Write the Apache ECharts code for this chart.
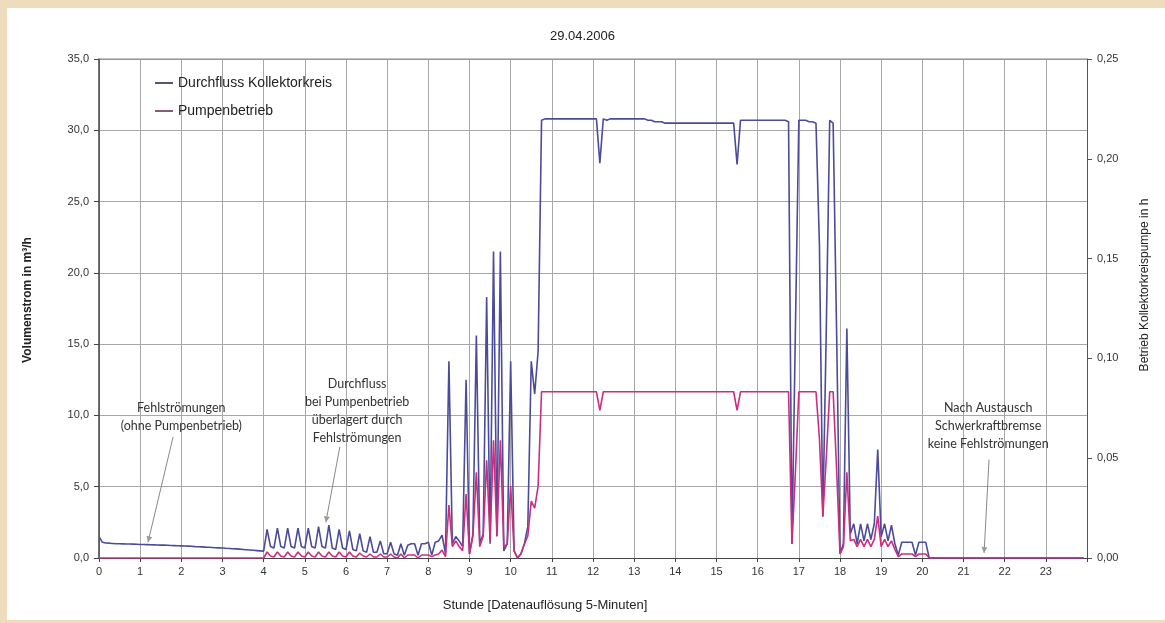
<!DOCTYPE html>
<html>
<head>
<meta charset="utf-8">
<script src="https://cdn.jsdelivr.net/npm/echarts@6/dist/echarts.min.js"></script>
<style>
html,body{margin:0;padding:0;background:#efdcbc;}
#c{width:1165px;height:623px;}
</style>
</head>
<body>
<div id="c"></div>
<script>
// 5-minute resolution, 288 values per day (index i -> hour i/12)
const titleText = '29.04.2006';
const hourLabels = ['0','1','2','3','4','5','6','7','8','9','10','11','12','13','14','15','16','17','18','19','20','21','22','23'];
const seriesNames = ['Durchfluss Kollektorkreis', 'Pumpenbetrieb'];

// Durchfluss Kollektorkreis in m³/h (left axis)
const flow = [
  1.5,1.1,1.05,1.04,1.02,1.0,1.0,0.99,0.98,0.98,0.97,0.96,
  0.95,0.95,0.94,0.93,0.92,0.91,0.90,0.90,0.89,0.88,0.87,0.86,
  0.85,0.84,0.83,0.82,0.80,0.79,0.78,0.76,0.75,0.74,0.72,0.71,
  0.70,0.68,0.67,0.65,0.64,0.62,0.60,0.58,0.56,0.54,0.52,0.50,
  0.48,2.0,0.8,0.7,2.1,0.8,0.7,2.1,0.8,0.7,2.1,0.8,
  0.7,2.1,0.8,0.7,2.2,0.8,0.7,2.3,0.7,0.6,2.0,0.7,
  0.6,1.9,0.6,0.5,1.7,0.5,0.4,1.5,0.4,0.4,1.2,0.3,
  0.3,1.1,0.3,0.2,1.0,0.2,0.9,1.0,1.0,0.2,1.0,1.0,
  1.1,0.2,1.1,1.2,1.6,0.3,13.8,1.0,1.5,1.2,0.8,12.5,
  0.3,1.7,15.6,1.0,1.7,18.3,1.0,21.5,1.5,21.5,0.5,1.0,
  13.8,0.5,0.0,0.3,1.0,2.2,13.8,11.5,14.5,30.7,30.8,30.8,
  30.8,30.8,30.8,30.8,30.8,30.8,30.8,30.8,30.8,30.8,30.8,30.8,
  30.8,30.8,27.7,30.8,30.7,30.8,30.8,30.8,30.8,30.8,30.8,30.8,
  30.8,30.8,30.8,30.8,30.7,30.7,30.6,30.6,30.6,30.5,30.5,30.5,
  30.5,30.5,30.5,30.5,30.5,30.5,30.5,30.5,30.5,30.5,30.5,30.5,
  30.5,30.5,30.5,30.5,30.5,30.5,27.6,30.7,30.7,30.7,30.7,30.7,
  30.7,30.7,30.7,30.7,30.7,30.7,30.7,30.7,30.7,30.6,1.0,16.0,
  30.7,30.7,30.7,30.6,30.6,30.5,22.0,2.9,16.0,30.7,30.5,16.0,
  0.3,1.0,16.1,1.7,2.4,1.0,2.4,1.2,2.4,1.3,2.4,7.6,
  1.5,2.4,1.2,2.3,1.0,0.2,1.1,1.1,1.1,1.1,0.2,1.1,
  1.1,1.1,0.0,0,0,0,0,0,0,0,0,0,
  0,0,0,0,0,0,0,0,0,0,0,0,
  0,0,0,0,0,0,0,0,0,0,0,0,
  0,0,0,0,0,0,0,0,0,0,0,0
];

// Pumpenbetrieb in h per 5-minute interval (right axis)
const pump = [
  0,0,0,0,0,0,0,0,0,0,0,0,
  0,0,0,0,0,0,0,0,0,0,0,0,
  0,0,0,0,0,0,0,0,0,0,0,0,
  0,0,0,0,0,0,0,0,0,0,0,0,
  0,0.003,0.001,0.0005,0.003,0.001,0.0005,0.003,0.001,0.0005,0.003,0.001,
  0.0005,0.003,0.001,0.0005,0.003,0.001,0.0005,0.003,0.001,0.0005,0.003,0.001,
  0.0005,0.003,0.001,0.0005,0.0025,0.001,0.0005,0.002,0.0005,0.0005,0.002,0.0005,
  0.0005,0.002,0.0005,0,0.002,0,0.0015,0.0015,0.0015,0,0.0015,0.0015,
  0.0015,0.0007,0.0015,0.002,0.004,0.0007,0.0265,0.0057,0.0086,0.0057,0.0036,0.032,
  0.002,0.011,0.043,0.0057,0.011,0.049,0.0086,0.059,0.011,0.059,0.0057,0.007,
  0.036,0.0036,0,0.002,0.007,0.011,0.0285,0.025,0.036,0.0833,0.0833,0.0833,
  0.0833,0.0833,0.0833,0.0833,0.0833,0.0833,0.0833,0.0833,0.0833,0.0833,0.0833,0.0833,
  0.0833,0.0833,0.074,0.0833,0.0833,0.0833,0.0833,0.0833,0.0833,0.0833,0.0833,0.0833,
  0.0833,0.0833,0.0833,0.0833,0.0833,0.0833,0.0833,0.0833,0.0833,0.0833,0.0833,0.0833,
  0.0833,0.0833,0.0833,0.0833,0.0833,0.0833,0.0833,0.0833,0.0833,0.0833,0.0833,0.0833,
  0.0833,0.0833,0.0833,0.0833,0.0833,0.0833,0.074,0.0833,0.0833,0.0833,0.0833,0.0833,
  0.0833,0.0833,0.0833,0.0833,0.0833,0.0833,0.0833,0.0833,0.0833,0.0833,0.007,0.043,
  0.0833,0.0833,0.0833,0.0833,0.0833,0.0833,0.06,0.021,0.05,0.0833,0.0833,0.045,
  0.002,0.0057,0.043,0.0086,0.0093,0.0057,0.0093,0.0057,0.0093,0.0057,0.0093,0.021,
  0.0057,0.0093,0.0057,0.0086,0.0043,0.0007,0.002,0.002,0.002,0.002,0.0007,0.002,
  0.002,0.002,0,0,0,0,0,0,0,0,0,0,
  0,0,0,0,0,0,0,0,0,0,0,0,
  0,0,0,0,0,0,0,0,0,0,0,0,
  0,0,0,0,0,0,0,0,0,0,0,0
];

// annotations: text, text centre (hour, m³/h), leader start and arrow tip (hour, m³/h)
const notes = [
  {text:'Fehlströmungen\n(ohne Pumpenbetrieb)', at:[2.0, 9.9], from:[1.8, 8.5], to:[1.19, 1.1]},
  {text:'Durchfluss\nbei Pumpenbetrieb\nüberlagert durch\nFehlströmungen', at:[6.27, 10.3], from:[5.85, 7.8], to:[5.51, 2.5]},
  {text:'Nach Austausch\nSchwerkraftbremse\nkeine Fehlströmungen', at:[21.6, 9.25], from:[21.62, 6.9], to:[21.5, 0.35]}
];

const flowData = flow.map((v, i) => [i / 12, v]);
const pumpData = pump.map((v, i) => [i / 12, v]);

const FONT = 'Liberation Sans, Arial, sans-serif';
const chart = echarts.init(document.getElementById('c'), null, {renderer: 'canvas'});

const option = {
  backgroundColor: '#efdcbc',
  animation: false,
  title: {
    text: titleText, left: 'center', top: 25,
    textStyle: {fontFamily: FONT, fontSize: 13, fontWeight: 'normal', color: '#222'}
  },
  legend: {
    orient: 'vertical', left: 150, top: 70, itemGap: 12, itemWidth: 18, itemHeight: 2,
    icon: 'rect',
    textStyle: {fontFamily: FONT, fontSize: 14, color: '#222', lineHeight: 16},
    data: [
      {name: seriesNames[0], itemStyle: {color: '#55557a'}},
      {name: seriesNames[1], itemStyle: {color: '#8a5a78'}}
    ]
  },
  grid: {left: 99, right: 78, top: 59, bottom: 65, containLabel: false},
  xAxis: {
    type: 'value', min: 0, max: 24, interval: 1,
    axisLine: {lineStyle: {color: '#444', width: 1}},
    axisTick: {show: true, length: 4, lineStyle: {color: '#444'}},
    axisLabel: {
      fontFamily: FONT, fontSize: 11, color: '#333', margin: 8,
      formatter: v => (v < 24 ? hourLabels[v] : '')
    },
    splitLine: {show: true, lineStyle: {color: '#a8a8a8', width: 1}}
  },
  yAxis: [
    {
      type: 'value', min: 0, max: 35, interval: 5, position: 'left',
      axisLine: {show: true, lineStyle: {color: '#444', width: 1.5}},
      axisTick: {show: true, length: 5, lineStyle: {color: '#444'}},
      axisLabel: {fontFamily: FONT, fontSize: 11, color: '#333', margin: 10,
        formatter: v => v.toFixed(1).replace('.', ',')},
      splitLine: {show: true, lineStyle: {color: '#a8a8a8', width: 1}}
    },
    {
      type: 'value', min: 0, max: 0.25, interval: 0.05, position: 'right',
      axisLine: {show: true, lineStyle: {color: '#555', width: 1}},
      axisTick: {show: true, length: 5, lineStyle: {color: '#555'}},
      axisLabel: {fontFamily: FONT, fontSize: 11, color: '#333', margin: 10,
        formatter: v => v.toFixed(2).replace('.', ',')},
      splitLine: {show: false}
    }
  ],
  series: [
    {
      name: seriesNames[0], type: 'line', yAxisIndex: 0, data: flowData,
      symbol: 'none', lineStyle: {color: '#4b4b9b', width: 1.6}, itemStyle: {color: '#4b4b9b'}, z: 3
    },
    {
      name: seriesNames[1], type: 'line', yAxisIndex: 1, data: pumpData,
      symbol: 'none', lineStyle: {color: '#cc2e7f', width: 1.6}, itemStyle: {color: '#cc2e7f'}, z: 4
    }
  ]
};
chart.setOption(option);

// decorations positioned from the chart's own axes
const px = p => chart.convertToPixel({xAxisIndex: 0, yAxisIndex: 0}, p);
const g = [];
g.push({type: 'rect', z: -10, silent: true, shape: {x: 7, y: 8, width: 1158, height: 612}, style: {fill: '#ffffff'}});
notes.forEach(n => {
  const c = px(n.at), a = px(n.from), b = px(n.to);
  g.push({type: 'text', z: 10, x: c[0], y: c[1], style: {
    text: n.text, fontFamily: 'Lato, Open Sans, sans-serif', fontSize: 12.5, lineHeight: 18,
    fill: '#333', align: 'center', verticalAlign: 'middle'}});
  g.push({type: 'line', z: 10, shape: {x1: a[0], y1: a[1], x2: b[0], y2: b[1]}, style: {stroke: '#8a8a8a', lineWidth: 1}});
  const ang = Math.atan2(b[1] - a[1], b[0] - a[0]);
  const L = 6, W = 3;
  const bx = b[0] - L * Math.cos(ang), by = b[1] - L * Math.sin(ang);
  g.push({type: 'polygon', z: 10, shape: {points: [
    [b[0], b[1]],
    [bx + W * Math.sin(ang), by - W * Math.cos(ang)],
    [bx - W * Math.sin(ang), by + W * Math.cos(ang)]
  ]}, style: {fill: '#9a9a9a'}});
});
const gl = chart.getModel().getComponent('grid').coordinateSystem.getRect();
g.push({type: 'line', z: 5, shape: {x1: gl.x, y1: gl.y, x2: gl.x + gl.width, y2: gl.y}, style: {stroke: '#888', lineWidth: 1}});
g.push({type: 'text', z: 10, x: 28, y: 300, rotation: Math.PI / 2, style: {
  text: 'Volumenstrom in m³/h', fontFamily: FONT, fontSize: 12, fontWeight: 'bold', fill: '#222', align: 'center', verticalAlign: 'middle'}});
g.push({type: 'text', z: 10, x: 1145, y: 285, rotation: Math.PI / 2, style: {
  text: 'Betrieb Kollektorkreispumpe in h', fontFamily: FONT, fontSize: 12, fill: '#222', align: 'center', verticalAlign: 'middle'}});
g.push({type: 'text', z: 10, x: 545, y: 605, style: {
  text: 'Stunde [Datenauflösung 5-Minuten]', fontFamily: FONT, fontSize: 13, fill: '#222', align: 'center', verticalAlign: 'middle'}});
chart.setOption({graphic: g});
</script>
</body>
</html>
